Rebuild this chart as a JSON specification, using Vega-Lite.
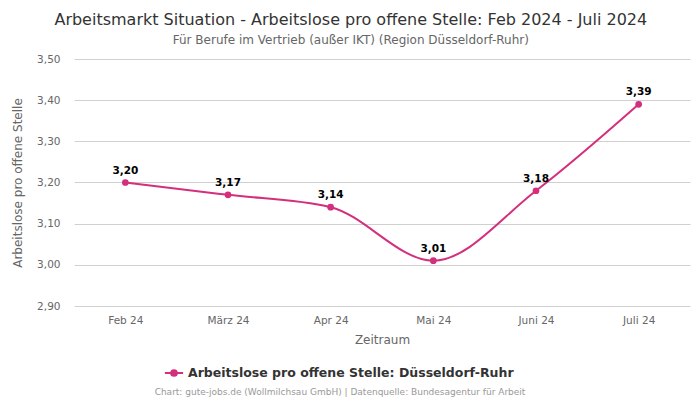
{
  "$schema": "https://vega.github.io/schema/vega-lite/v6.json",
  "width": 616,
  "height": 247,
  "padding": {"left": 11, "top": 12, "right": 10, "bottom": 4},
  "background": "white",
  "config": {
    "font": "DejaVu Sans",
    "view": {"stroke": null},
    "locale": {"number": {"decimal": ",", "thousands": ".", "grouping": [3], "currency": ["", " €"]}}
  },
  "title": {
    "text": "Arbeitsmarkt Situation - Arbeitslose pro offene Stelle: Feb 2024 - Juli 2024",
    "subtitle": "Für Berufe im Vertrieb (außer IKT) (Region Düsseldorf-Ruhr)",
    "fontSize": 16,
    "fontWeight": "normal",
    "color": "#333333",
    "subtitleFontSize": 12,
    "subtitleColor": "#666666",
    "subtitlePadding": 7,
    "anchor": "middle",
    "frame": "bounds",
    "offset": 8
  },
  "data": {
    "values": [
      {"monat": "Feb 24", "wert": 3.20, "serie": "Arbeitslose pro offene Stelle: Düsseldorf-Ruhr"},
      {"monat": "März 24", "wert": 3.17, "serie": "Arbeitslose pro offene Stelle: Düsseldorf-Ruhr"},
      {"monat": "Apr 24", "wert": 3.14, "serie": "Arbeitslose pro offene Stelle: Düsseldorf-Ruhr"},
      {"monat": "Mai 24", "wert": 3.01, "serie": "Arbeitslose pro offene Stelle: Düsseldorf-Ruhr"},
      {"monat": "Juni 24", "wert": 3.18, "serie": "Arbeitslose pro offene Stelle: Düsseldorf-Ruhr"},
      {"monat": "Juli 24", "wert": 3.39, "serie": "Arbeitslose pro offene Stelle: Düsseldorf-Ruhr"}
    ]
  },
  "encoding": {
    "x": {
      "field": "monat",
      "type": "ordinal",
      "sort": null,
      "scale": {"type": "point", "padding": 0.5},
      "axis": {
        "title": "Zeitraum",
        "labelAngle": 0,
        "labelFontSize": 10.5,
        "labelColor": "#666666",
        "labelPadding": 9,
        "ticks": false,
        "domain": false,
        "titleFontSize": 12,
        "titleFontWeight": "normal",
        "titleColor": "#666666",
        "titlePadding": 9
      }
    },
    "y": {
      "field": "wert",
      "type": "quantitative",
      "scale": {"domain": [2.9, 3.5], "nice": false, "zero": false},
      "axis": {
        "title": "Arbeitslose pro offene Stelle",
        "values": [2.9, 3.0, 3.1, 3.2, 3.3, 3.4, 3.5],
        "format": ".2f",
        "labelFontSize": 10.5,
        "labelColor": "#666666",
        "labelPadding": 14,
        "ticks": false,
        "domain": false,
        "gridColor": "#d0d0d0",
        "titleFontSize": 12,
        "titleFontWeight": "normal",
        "titleColor": "#666666",
        "titlePadding": 12
      }
    }
  },
  "layer": [
    {
      "mark": {"type": "line", "interpolate": "monotone", "strokeWidth": 2},
      "encoding": {
        "color": {
          "field": "serie",
          "type": "nominal",
          "scale": {"range": ["#d42f7c"]},
          "legend": {
            "orient": "none",
            "legendX": 81,
            "legendY": 307,
            "direction": "horizontal",
            "title": "Chart: gute-jobs.de (Wollmilchsau GmbH) | Datenquelle: Bundesagentur für Arbeit",
            "titleOrient": "bottom",
            "titleAnchor": "middle",
            "titleFontSize": 9,
            "titleFontWeight": "normal",
            "titleColor": "#999999",
            "titleLimit": 1000,
            "titlePadding": 8,
            "labelFontSize": 12.5,
            "labelFontWeight": "bold",
            "labelColor": "#333333",
            "labelLimit": 500,
            "labelOffset": 7,
            "symbolType": "M-1.6,0L-0.5,0M0.5,0L1.6,0M-0.5,0A0.5,0.5 0 1,1 0.5,0A0.5,0.5 0 1,1 -0.5,0Z",
            "symbolSize": 130,
            "symbolStrokeWidth": 2,
            "symbolFillColor": "#d42f7c",
            "symbolStrokeColor": "#d42f7c"
          }
        }
      }
    },
    {
      "mark": {"type": "point", "filled": true, "size": 45, "opacity": 1, "color": "#d42f7c"},
      "encoding": {}
    },
    {
      "mark": {"type": "text", "dy": -12, "fontSize": 10.5, "fontWeight": "bold", "color": "#000000"},
      "encoding": {
        "text": {"field": "wert", "type": "quantitative", "format": ".2f"}
      }
    }
  ]
}
